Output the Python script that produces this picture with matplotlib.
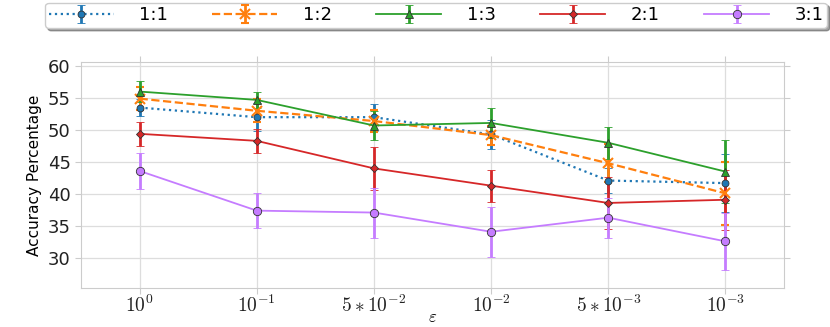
import numpy as np
import matplotlib
matplotlib.use('Agg')
import matplotlib.pyplot as plt

plt.rcParams['mathtext.fontset'] = 'cm'

# 数据
eps_labels = [r'$10^{0}$', r'$10^{-1}$', r'$5*10^{-2}$', r'$10^{-2}$', r'$5*10^{-3}$', r'$10^{-3}$']
ratios = ['1:1', '1:2', '1:3', '2:1', '3:1']

acc_11 = [53.5, 52.0, 52.0, 49.3, 42.1, 41.7]
err_11 = [1.3, 2.2, 2.1, 2.3, 2.0, 4.5]
acc_12 = [54.9, 53.0, 51.4, 49.2, 44.8, 40.1]
err_12 = [1.8, 1.8, 1.7, 1.5, 3.0, 4.9]
acc_13 = [56.0, 54.7, 50.7, 51.1, 48.0, 43.5]
err_13 = [1.7, 1.3, 2.3, 2.4, 2.5, 4.9]
acc_21 = [49.4, 48.3, 44.0, 41.3, 38.6, 39.1]
err_21 = [1.9, 1.9, 3.4, 2.5, 4.0, 4.7]
acc_31 = [43.6, 37.4, 37.1, 34.1, 36.3, 32.6]
err_31 = [2.85, 2.7, 3.9, 3.9, 3.1, 4.4]

series = [acc_11, acc_12, acc_13, acc_21, acc_31]
errors = [err_11, err_12, err_13, err_21, err_31]
colors = ['#1f77b4', '#ff7f0e', '#2ca02c', '#d62728', '#c57cff']
markers = ['o', 'x', '^', 'D', 'o']
styles = [':', '--', '-', '-', '-']
msizes = [5, 7, 6, 4, 6]

fig = plt.figure(figsize=(8.30, 3.27), dpi=100)
ax = fig.add_axes([0.0976, 0.119, 0.847, 0.691])

x = np.arange(len(eps_labels))
for i in range(len(ratios)):
    ax.errorbar(x, series[i], yerr=errors[i], color=colors[i], marker=markers[i],
                linestyle=styles[i], linewidth=1.3 if styles[i] == '-' else 1.6,
                markersize=msizes[i], markeredgecolor='#333333' if markers[i] != 'x' else colors[i],
                markeredgewidth=0.6 if markers[i] != 'x' else 1.5,
                elinewidth=2, capsize=3, capthick=1, label=ratios[i])

ax.set_xlim(-0.5, 5.5)
ax.set_ylim(25.3, 60.6)
ax.set_yticks([30, 35, 40, 45, 50, 55, 60])
ax.set_xticks(x)
ax.set_xticklabels(eps_labels, fontsize=14)
ax.tick_params(axis='y', labelsize=13)
ax.tick_params(axis='x', pad=1)
ax.tick_params(which='both', direction='out', length=4, color='#cccccc',
               top=True, right=True, labelcolor='#222222')
ax.grid(True, color='#dddddd', linewidth=0.9)
ax.set_axisbelow(True)
for s in ax.spines.values():
    s.set_color('#cccccc')

ax.set_xlabel(r'$\varepsilon$', fontsize=12, labelpad=-6)
ax.set_ylabel('Accuracy Percentage', fontsize=11)

ax.legend(loc='lower left', bbox_to_anchor=(45 / 830, 1 - 28 / 327, 782 / 830, 24 / 327),
          bbox_transform=fig.transFigure, mode='expand', ncol=5, fontsize=13,
          frameon=True, shadow=True, fancybox=True, handlelength=3.6,
          handletextpad=1.4, borderpad=0.2, borderaxespad=0)

plt.savefig('out.png', dpi=100)
